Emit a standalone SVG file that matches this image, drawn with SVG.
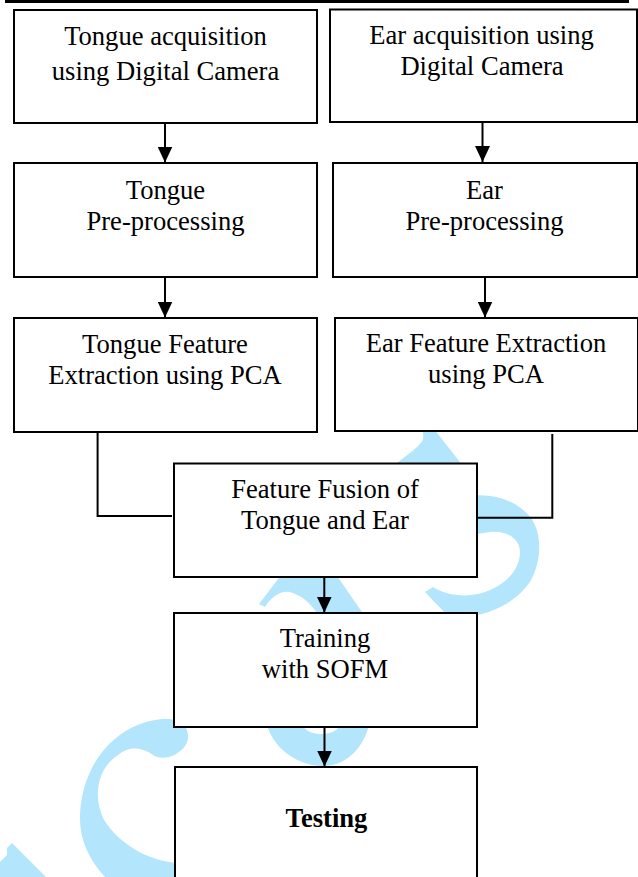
<svg xmlns="http://www.w3.org/2000/svg" width="638" height="877" viewBox="0 0 638 877">
<style>
.box{fill:#fff;stroke:#000;stroke-width:2}
.t{font-family:"Liberation Serif","Times New Roman",serif;font-size:26.6px;fill:#000;text-anchor:middle}
.b{font-weight:bold}
.ln{fill:none;stroke:#000;stroke-width:2}
.wm{fill:#b3e5fc;stroke:none}
</style>
<defs>
<marker id="arr" viewBox="0 0 16 15" refX="16" refY="7.5" markerWidth="16" markerHeight="15" markerUnits="userSpaceOnUse" orient="auto">
<path d="M0,0 L16,7.5 L0,15 Z" fill="#000"/>
</marker>
</defs>
<rect x="0" y="0" width="638" height="877" fill="#fff"/>
<line x1="5" y1="1.5" x2="629" y2="1.5" stroke="#000" stroke-width="3"/>
<g id="watermark">
<path class="wm" d="M0,862 L7,855 L7,848 L12,843 L46,877 L0,877 Z"/>
<path class="wm" d="M163,719 C120,722 82,760 80,815 C79,840 90,862 108,880 L180,880 L180,863 C150,862 120,845 104,820 C92,795 98,768 118,755 C130,745 143,748 153,755 C162,761 177,757 185,746 C191,737 188,726 178,721 C173,719 168,719 163,719 Z"/>
<path class="wm" d="M259,604 L285,570 L333,570 L366,618 L320,618 C312,604 303,596 290,592 C280,590 270,598 265,607 Z"/>
<path class="wm" d="M266,720 C270,745 295,766 323,766 C348,766 366,745 370,720 L343,720 C340,730 332,734 320,734 C310,734 303,729 300,720 Z"/>
<path class="wm" d="M395,465 C405,456 415,450 420,444 C424,440 424,436 422,429 L434,429 L463,466 Z"/>
<path class="wm" d="M470,496 C492,493 517,500 531,518 C543,535 541,562 531,580 C519,600 496,611 477,615 L447,615 L425,592 L433,587 C445,595 465,598 482,593 C505,586 520,570 520,552 C520,538 505,530 490,532 L470,535 Z"/>
</g>
<g id="n1"><rect class="box" x="14" y="10" width="303" height="113"/>
<text class="t" x="165.5" y="45">Tongue acquisition</text>
<text class="t" x="165.5" y="79.5">using Digital Camera</text></g>
<g id="n2"><rect class="box" x="330" y="9.5" width="307" height="112.5"/>
<text class="t" x="481.5" y="43.5">Ear acquisition using</text>
<text class="t" x="482" y="74.5">Digital Camera</text></g>
<g id="n3"><rect class="box" x="14" y="163" width="303" height="114"/>
<text class="t" x="165.5" y="198.5">Tongue</text>
<text class="t" x="165.5" y="230">Pre-processing</text></g>
<g id="n4"><rect class="box" x="333" y="163" width="304" height="114"/>
<text class="t" x="484.5" y="198.5">Ear</text>
<text class="t" x="484.5" y="230">Pre-processing</text></g>
<g id="n5"><rect class="box" x="14" y="318" width="303" height="114"/>
<text class="t" x="165" y="352.7">Tongue Feature</text>
<text class="t" x="165" y="384">Extraction using PCA</text></g>
<g id="n6"><rect class="box" x="335" y="318" width="303" height="113"/>
<text class="t" x="486" y="351.7">Ear Feature Extraction</text>
<text class="t" x="486" y="383.3">using PCA</text></g>
<g id="n7"><rect class="box" x="174" y="463.5" width="303" height="113.5"/>
<text class="t" x="325" y="498.3">Feature Fusion of</text>
<text class="t" x="325" y="529.3">Tongue and Ear</text></g>
<g id="n8"><rect class="box" x="174" y="613" width="303" height="114"/>
<text class="t" x="325" y="647.3">Training</text>
<text class="t" x="325" y="678.3">with SOFM</text></g>
<g id="n9"><rect class="box" x="175" y="767" width="302" height="120"/>
<text class="t b" x="326.5" y="826.7">Testing</text></g>
<g id="connectors">
<line class="ln" x1="165" y1="123" x2="165" y2="162.5" marker-end="url(#arr)"/>
<line class="ln" x1="482.5" y1="122" x2="482.5" y2="162" marker-end="url(#arr)"/>
<line class="ln" x1="165" y1="277" x2="165" y2="317.5" marker-end="url(#arr)"/>
<line class="ln" x1="485" y1="277" x2="485" y2="317.5" marker-end="url(#arr)"/>
<polyline class="ln" points="97.6,432 97.6,516 172,516"/>
<polyline class="ln" points="552.3,434 552.3,517.7 477,517.7"/>
<line class="ln" x1="324.3" y1="577" x2="324.3" y2="612.5" marker-end="url(#arr)"/>
<line class="ln" x1="324.5" y1="727" x2="324.5" y2="766.5" marker-end="url(#arr)"/>
</g>
</svg>
